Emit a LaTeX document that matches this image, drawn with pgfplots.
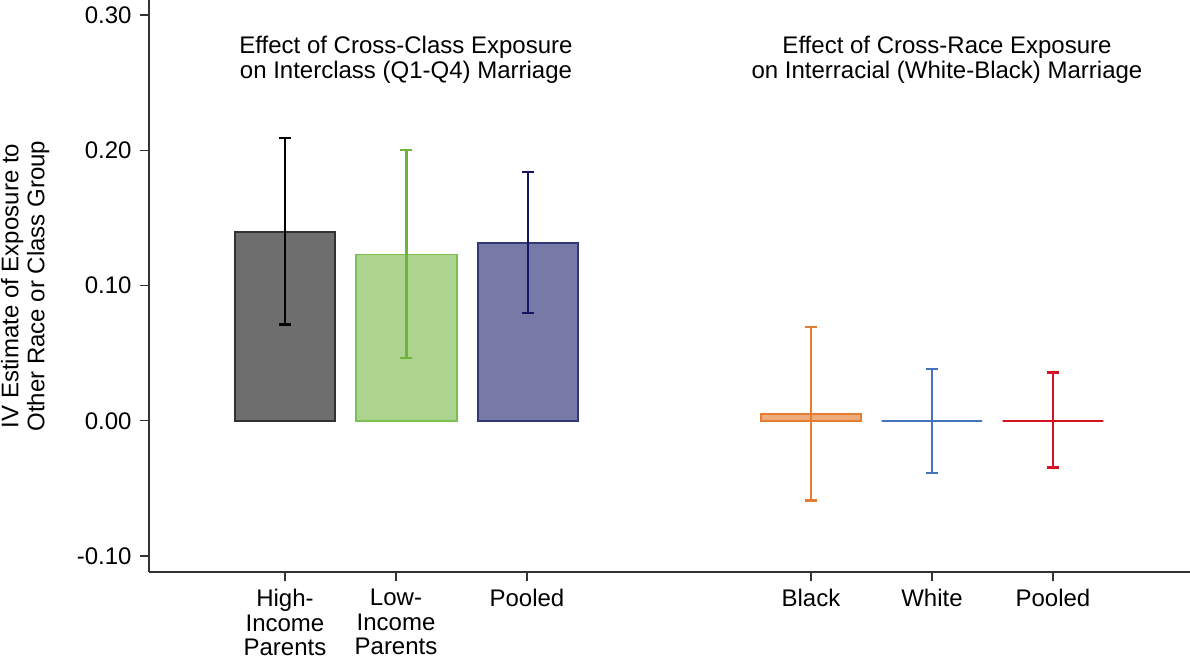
\documentclass[border=0pt]{standalone}
\usepackage{fontspec}
\setmainfont{Liberation Sans}
\usepackage{pgfplots}
\pgfplotsset{compat=1.18}
\definecolor{hifill}{RGB}{110,110,110}
\definecolor{hidraw}{RGB}{50,50,50}
\definecolor{lofill}{RGB}{172,212,142}
\definecolor{lodraw}{RGB}{125,190,80}
\definecolor{loerr}{RGB}{110,180,60}
\definecolor{pofill}{RGB}{119,121,166}
\definecolor{podraw}{RGB}{50,55,120}
\definecolor{poerr}{RGB}{20,20,100}
\definecolor{blfill}{RGB}{238,172,125}
\definecolor{bldraw}{RGB}{228,125,50}
\definecolor{whdraw}{RGB}{70,115,190}
\definecolor{rddraw}{RGB}{210,20,35}
\begin{document}
\fontsize{12}{12.6}\selectfont
\begin{tikzpicture}
\begin{axis}[
  scale only axis, width=520.5pt, height=286pt,
  xmin=-1.119, xmax=7.449, ymin=-0.1118, ymax=0.3111,
  clip=false,
  axis x line*=bottom, axis y line*=left,
  axis line style={line width=0.8pt, color=black!80},
  tick align=outside, major tick length=4.5pt,
  tick style={line width=0.6pt, color=black!80},
  ytick={-0.1,0,0.1,0.2,0.3},
  scaled y ticks=false,
  /pgf/number format/assume math mode=true,
  yticklabel style={/pgf/number format/fixed, /pgf/number format/fixed zerofill, /pgf/number format/precision=2},
  xtick={0,0.914,1.992,4.329,5.325,6.321},
  xticklabels={{High-\\Income\\Parents},{Low-\\Income\\Parents},{Pooled},{Black},{White},{Pooled}},
  xticklabel style={align=center},
  ticklabel style={font=\fontsize{12}{12.2}\selectfont},
  ylabel={IV Estimate of Exposure to\\Other Race or Class Group},
  ylabel style={align=center, at={(axis description cs:-0.119,0.5)}, anchor=center, font=\fontsize{12}{13}\selectfont},
]
\addplot[ybar, bar width=0.828, bar shift=0pt, fill=hifill, draw=hidraw, line width=0.9pt,
  error bars/.cd, y dir=both, y explicit,
  error bar style={line width=1.1pt, color=black},
  error mark options={rotate=90, mark size=3pt, line width=1.1pt, color=black}]
  coordinates {(0,0.1395) += (0,0.0695) -= (0,0.0683)};
\addplot[ybar, bar width=0.828, bar shift=0pt, fill=lofill, draw=lodraw, line width=0.9pt,
  error bars/.cd, y dir=both, y explicit,
  error bar style={line width=1.1pt, color=loerr},
  error mark options={rotate=90, mark size=3pt, line width=1.1pt, color=loerr}]
  coordinates {(1,0.1229) += (0,0.0774) -= (0,0.0763)};
\addplot[ybar, bar width=0.828, bar shift=0pt, fill=pofill, draw=podraw, line width=0.9pt,
  error bars/.cd, y dir=both, y explicit,
  error bar style={line width=1.1pt, color=poerr},
  error mark options={rotate=90, mark size=3pt, line width=1.1pt, color=poerr}]
  coordinates {(2,0.1313) += (0,0.0527) -= (0,0.0515)};
\addplot[ybar, bar width=0.828, bar shift=0pt, fill=blfill, draw=bldraw, line width=0.9pt,
  error bars/.cd, y dir=both, y explicit,
  error bar style={line width=1.1pt, color=bldraw},
  error mark options={rotate=90, mark size=3pt, line width=1.1pt, color=bldraw}]
  coordinates {(4.329,0.005) += (0,0.0645) -= (0,0.064)};
\addplot[ybar, bar width=0.828, bar shift=0pt, fill=whdraw, draw=whdraw, line width=0.9pt,
  error bars/.cd, y dir=both, y explicit,
  error bar style={line width=1.1pt, color=whdraw},
  error mark options={rotate=90, mark size=3pt, line width=1.1pt, color=whdraw}]
  coordinates {(5.325,0) += (0,0.038) -= (0,0.0384)};
\addplot[ybar, bar width=0.828, bar shift=0pt, fill=rddraw, draw=rddraw, line width=0.9pt,
  error bars/.cd, y dir=both, y explicit,
  error bar style={line width=1.1pt, color=rddraw},
  error mark options={rotate=90, mark size=3pt, line width=1.1pt, color=rddraw}]
  coordinates {(6.321,0) += (0,0.0357) -= (0,0.0345)};
\node[align=center, font=\fontsize{12}{12.5}\selectfont] at (axis cs:0.996,0.2667)
  {Effect of Cross-Class Exposure\\on Interclass (Q1-Q4) Marriage};
\node[align=center, font=\fontsize{12}{12.5}\selectfont] at (axis cs:5.449,0.2667)
  {Effect of Cross-Race Exposure\\on Interracial (White-Black) Marriage};
\end{axis}
\pgfresetboundingbox
\useasboundingbox ([xshift=-74.5pt,yshift=-44pt]current axis.south west) rectangle (current axis.north east);
\end{tikzpicture}
\end{document}
